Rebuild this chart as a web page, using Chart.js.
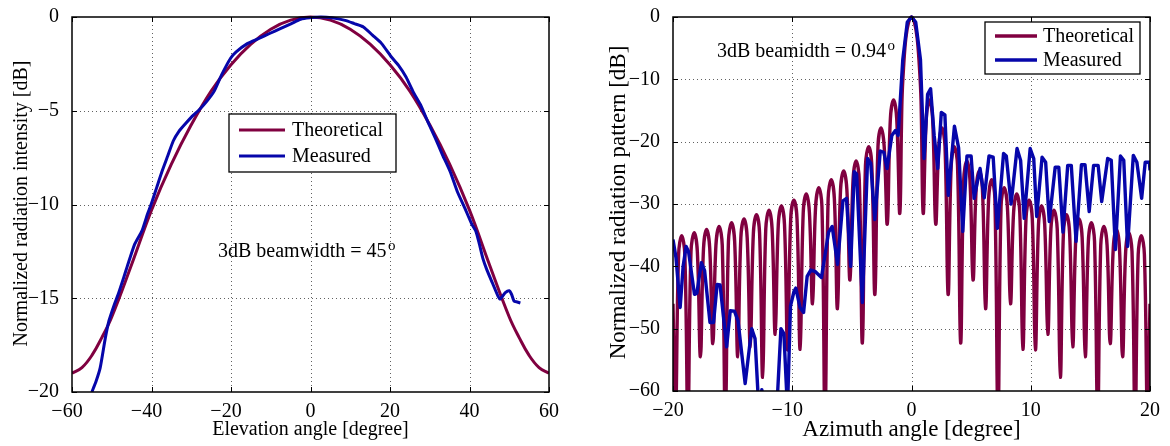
<!DOCTYPE html>
<html><head><meta charset="utf-8">
<script src="https://cdn.jsdelivr.net/npm/chart.js@4.4.0/dist/chart.umd.min.js"></script>
<style>
html,body{margin:0;padding:0;background:#fff;width:1170px;height:446px;overflow:hidden}
.wrap{position:absolute;top:0;width:585px;height:446px}
</style></head><body>
<div class="wrap" style="left:0"><canvas id="c1" width="585" height="446" style="width:585px;height:446px"></canvas></div>
<div class="wrap" style="left:585px"><canvas id="c2" width="585" height="446" style="width:585px;height:446px"></canvas></div>
<script>
// ---------- Left panel: elevation ----------
const elevTicksX = [-60,-40,-20,0,20,40,60];
const elevTicksY = [-20,-15,-10,-5,0];
const elevTheoX = [-60,-57.5,-55,-52.5,-50,-45,-40,-35,-30,-25,-20,-15,-10,-5,0,5,10,15,20,25,30,35,40,45,50,52.5,55,57.5,60];
const elevTheoY = [-19.0,-18.7,-18.05,-17.1,-16.0,-13.2,-10.3,-7.85,-5.75,-3.95,-2.55,-1.45,-0.65,-0.17,0,-0.17,-0.65,-1.45,-2.55,-3.95,-5.75,-7.85,-10.3,-13.2,-16.0,-17.1,-18.05,-18.7,-19.0];
const elevMeasX = [-55.0,-53.9,-52.9,-51.6,-50.7,-49.3,-48.4,-47.0,-46.1,-44.2,-42.4,-41.0,-40.1,-38.7,-37.3,-35.9,-34.5,-33.1,-31.7,-29.8,-28.0,-26.1,-24.3,-22.4,-20.1,-18.7,-15.9,-13.1,-10.3,-7.6,-4.8,-2.5,-0.2,2.6,5.4,8.7,11.0,13.3,15.6,17.9,20.3,22.1,24.0,25.8,27.7,29.5,31.4,33.2,35.1,36.9,38.8,40.6,41.6,42.5,43.4,44.4,45.8,47.2,47.7,48.3,49.0,50.0,50.6,51.2,52.0,52.8];
const elevMeasY = [-20.0,-19.4,-18.7,-17.1,-16.2,-15.3,-14.8,-13.9,-13.3,-12.1,-11.4,-10.5,-10.0,-9.1,-8.2,-7.4,-6.6,-6.1,-5.75,-5.3,-4.95,-4.5,-3.98,-3.1,-2.2,-1.86,-1.42,-1.15,-0.88,-0.62,-0.35,-0.12,-0.04,0,-0.04,-0.18,-0.35,-0.53,-0.97,-1.42,-2.12,-2.57,-3.19,-3.98,-4.69,-5.58,-6.46,-7.35,-8.23,-9.29,-10.18,-11.06,-11.42,-12.12,-12.9,-13.5,-14.2,-14.9,-15.05,-14.9,-14.7,-14.6,-14.8,-15.15,-15.2,-15.25];

// ---------- Right panel: azimuth ----------
const azTicksX = [-20,-10,0,10,20];
const azTicksY = [-60,-50,-40,-30,-20,-10,0];
const azTheoX = [-20.00,-19.79,
 -19.53,-19.27,-19.01,-18.75, -18.49,-18.22,-17.96,-17.70, -17.44,-17.18,-16.92,-16.66, -16.40,-16.13,-15.87,-15.61,
 -15.35,-15.09,-14.83,-14.57, -14.31,-14.04,-13.78,-13.52, -13.26,-13.00,-12.74,-12.48, -12.22,-11.95,-11.69,-11.43,
 -11.17,-10.91,-10.65,-10.39, -10.13,-9.86,-9.60,-9.34, -9.08,-8.82,-8.56,-8.30, -8.04,-7.77,-7.51,-7.25,
 -6.99,-6.73,-6.47,-6.21, -5.95,-5.68,-5.42,-5.16, -4.90,-4.64,-4.38,-4.12, -3.86,-3.59,-3.33,-3.07,
 -2.81,-2.55,-2.29,-2.03, -1.77,-1.50,-1.24,-0.98,
 -0.80,-0.65,-0.47,-0.25,0, 0.25,0.47,0.65,0.80,0.98,
 1.24,1.50,1.77,2.03, 2.29,2.55,2.81,3.07, 3.33,3.59,3.86,4.12, 4.38,4.64,4.90,5.16, 5.42,5.68,5.95,6.21,
 6.47,6.73,6.99,7.25, 7.51,7.77,8.04,8.30, 8.56,8.82,9.08,9.34, 9.60,9.86,10.13,10.39, 10.65,10.91,11.17,11.43,
 11.69,11.95,12.22,12.48, 12.74,13.00,13.26,13.52, 13.78,14.04,14.31,14.57, 14.83,15.09,15.35,15.61,
 15.87,16.13,16.40,16.66, 16.92,17.18,17.44,17.70, 17.96,18.22,18.49,18.75, 19.01,19.27,19.53,19.79,
 20.00];
const azTheoY = [-46,-65,
 -38.1,-35.1,-38.1,-65, -37.6,-34.6,-37.6,-54.5, -37.1,-34.1,-37.1,-52.4, -36.6,-33.6,-36.6,-65,
 -36.0,-33.0,-36.0,-54.5, -35.4,-32.4,-35.4,-52.9, -34.7,-31.7,-34.7,-57.8, -34.0,-31.0,-34.0,-50.9,
 -33.3,-30.3,-33.3,-53.4, -32.4,-29.4,-32.4,-53.3, -31.4,-28.4,-31.4,-46.0, -30.4,-27.4,-30.4,-65,
 -29.1,-26.1,-29.1,-46.8, -27.7,-24.7,-27.7,-42.2, -26.1,-23.1,-26.1,-52.3, -23.8,-20.8,-23.8,-44.5,
 -20.8,-17.8,-20.8,-33.2, -16.3,-13.3,-16.3,-31.5,
 -13.4,-7.6,-3.3,-0.9,0, -0.9,-3.3,-7.6,-13.4,-31.5,
 -16.3,-13.3,-16.3,-33.2, -20.8,-17.8,-20.8,-44.5, -23.8,-20.8,-23.8,-52.3, -26.1,-23.1,-26.1,-42.2, -27.7,-24.7,-27.7,-46.8,
 -29.1,-26.1,-29.1,-65, -30.4,-27.4,-30.4,-46.0, -31.4,-28.4,-31.4,-53.3, -32.4,-29.4,-32.4,-53.4, -33.3,-30.3,-33.3,-50.9,
 -34.0,-31.0,-34.0,-57.8, -34.7,-31.7,-34.7,-52.9, -35.4,-32.4,-35.4,-54.5, -36.0,-33.0,-36.0,-65,
 -36.6,-33.6,-36.6,-52.4, -37.1,-34.1,-37.1,-54.5, -37.6,-34.6,-37.6,-65, -38.1,-35.1,-38.1,-65,
 -46];
const azMeasX = [-20.0,-19.75,-19.4,-19.15,-18.9,-18.7,-18.2,-18.0,-17.62,-17.35,-16.9,-16.6,-16.3,-16.05,-15.5,-15.2,-14.85,-14.55,-13.95,-13.4,-13.12,-12.8,-12.55,-12.3,-11.3,-10.95,-10.7,-10.4,-10.15,-9.85,-9.7,-9.35,-9.05,-8.75,-8.45,-8.1,-7.55,-6.95,-6.65,-6.2,-5.75,-5.45,-5.1,-4.8,-4.6,-4.12,-3.68,-3.42,-3.08,-2.62,-2.32,-2.05,-1.65,-1.35,-1.12,-0.73,-0.35,0,0.35,0.75,1.05,1.35,1.6,1.9,2.2,2.5,2.8,3.08,3.6,3.95,4.3,4.65,5.0,5.25,5.75,6.1,6.5,6.85,7.2,7.72,7.95,8.35,8.85,9.15,9.45,9.95,10.25,10.5,10.95,11.25,11.55,12.05,12.35,12.7,13.1,13.4,13.8,14.25,14.55,14.9,15.27,15.65,15.95,16.45,16.75,17.1,17.52,17.8,18.12,18.6,18.9,19.3,19.6,19.95,20.0];
const azMeasY = [-35.7,-38.6,-46.6,-40.0,-36.8,-37.6,-44.5,-44.3,-39.4,-40.7,-49.0,-49.0,-42.9,-43.0,-52.9,-47.1,-47.2,-48.7,-58.8,-50.0,-51.6,-63.0,-59.8,-63.0,-63.0,-50.0,-50.8,-63.0,-46.4,-44.0,-43.5,-46.6,-47.4,-41.6,-40.6,-40.8,-41.8,-34.5,-33.6,-39.7,-29.5,-29.1,-40.0,-24.8,-25.2,-45.8,-22.7,-23.5,-32.5,-21.5,-21.7,-24.3,-19.0,-18.2,-19.0,-6.8,-0.8,0,-0.8,-6.8,-22.7,-12.4,-11.5,-19.0,-24.3,-15.3,-15.7,-28.6,-17.5,-21.0,-34.4,-22.3,-22.3,-29.1,-24.3,-29.0,-22.3,-22.5,-33.9,-21.9,-22.3,-30.0,-21.1,-23.0,-32.3,-21.1,-22.7,-32.0,-22.5,-23.3,-32.8,-24.1,-24.1,-34.5,-23.8,-23.8,-36.0,-23.7,-23.7,-31.2,-23.8,-23.8,-29.6,-22.7,-23.0,-37.3,-22.3,-23.0,-36.8,-22.2,-23.3,-29.1,-23.3,-23.3,-24.6];

const RED = 'rgb(128,0,64)';
const BLUE = 'rgb(6,6,170)';
const FONT = "'Liberation Serif','Times New Roman',serif";
const pts = (xs, ys) => xs.map((x, i) => ({x, y: ys[i]}));
const fmtX = v => v < 0 ? '\u2212' + Math.abs(v) + '\u00A0\u00A0' : String(v);
const fmtY = v => v < 0 ? '\u2212' + Math.abs(v) : String(v);

function deco(o) {
  return {
    id: 'deco',
    beforeDatasetsDraw(chart) {
      const {ctx, chartArea: a, scales: {x, y}} = chart;
      ctx.save();
      ctx.strokeStyle = 'rgba(30,30,30,0.7)'; ctx.lineWidth = 1; ctx.setLineDash([1, 3]);
      ctx.beginPath();
      o.xt.forEach(v => { const p = Math.round(x.getPixelForValue(v)) + 0.5; if (p > a.left + 2 && p < a.right - 2) { ctx.moveTo(p, a.top); ctx.lineTo(p, a.bottom); } });
      o.yt.forEach(v => { const p = Math.round(y.getPixelForValue(v)) + 0.5; if (p > a.top + 2 && p < a.bottom - 2) { ctx.moveTo(a.left, p); ctx.lineTo(a.right, p); } });
      ctx.stroke();
      ctx.restore();
    },
    afterDatasetsDraw(chart) {
      const {ctx, chartArea: a, scales: {x, y}} = chart;
      ctx.save();
      ctx.strokeStyle = '#000'; ctx.lineWidth = 1;
      ctx.beginPath();
      o.xt.forEach(v => { const p = Math.round(x.getPixelForValue(v)) + 0.5; ctx.moveTo(p, a.bottom); ctx.lineTo(p, a.bottom - 5); ctx.moveTo(p, a.top); ctx.lineTo(p, a.top + 5); });
      o.yt.forEach(v => { const p = Math.round(y.getPixelForValue(v)) + 0.5; ctx.moveTo(a.left, p); ctx.lineTo(a.left + 5, p); ctx.moveTo(a.right, p); ctx.lineTo(a.right - 5, p); });
      ctx.stroke();
      ctx.lineWidth = 1.5;
      ctx.strokeRect(a.left, a.top, a.right - a.left, a.bottom - a.top);
      ctx.restore();
    },
    afterDraw(chart) {
      const ctx = chart.ctx;
      ctx.save();
      ctx.fillStyle = '#000';
      ctx.font = o.titleSize + 'px ' + FONT; ctx.textAlign = 'center'; ctx.textBaseline = 'alphabetic';
      ctx.fillText(o.xTitle, o.xTitlePos[0], o.xTitlePos[1]);
      ctx.save(); ctx.translate(o.yTitlePos[0], o.yTitlePos[1]); ctx.rotate(-Math.PI / 2);
      ctx.fillText(o.yTitle, 0, 0); ctx.restore();
      ctx.font = '20px ' + FONT; ctx.textAlign = 'left';
      ctx.fillText(o.note, o.notePos[0], o.notePos[1]);
      const w = ctx.measureText(o.note).width;
      ctx.font = '15px ' + FONT;
      ctx.fillText('o', o.notePos[0] + w + 1.5, o.notePos[1] - 7);
      const L = o.legend;
      ctx.fillStyle = '#fff';
      ctx.fillRect(L.box[0], L.box[1], L.box[2] - L.box[0], L.box[3] - L.box[1]);
      ctx.strokeStyle = '#000'; ctx.lineWidth = 1.3;
      ctx.strokeRect(L.box[0], L.box[1], L.box[2] - L.box[0], L.box[3] - L.box[1]);
      const items = [['Theoretical', RED, L.y1], ['Measured', BLUE, L.y2]];
      ctx.font = '20px ' + FONT; ctx.textBaseline = 'middle'; ctx.fillStyle = '#000';
      items.forEach(([t, c, yy]) => {
        ctx.strokeStyle = c; ctx.lineWidth = o.lw;
        ctx.beginPath(); ctx.moveTo(L.lx[0], yy); ctx.lineTo(L.lx[1], yy); ctx.stroke();
        ctx.fillText(t, L.tx, yy + 1);
      });
      ctx.restore();
    }
  };
}

function makeChart(id, o) {
  const tickFont = {family: FONT, size: 20};
  return new Chart(document.getElementById(id), {
    type: 'line',
    data: {datasets: [
      {label: 'Measured', data: pts(o.mx, o.my), borderColor: BLUE, borderWidth: o.lw, pointRadius: 0, tension: o.mt, order: 0, borderJoinStyle: 'round', clip: {left: 0, top: 3, right: 0, bottom: 0}},
      {label: 'Theoretical', data: pts(o.tx, o.ty), borderColor: RED, borderWidth: o.lw, pointRadius: 0, tension: o.tt, order: 1, borderJoinStyle: 'round', clip: {left: 0, top: 3, right: 0, bottom: 0}}
    ]},
    options: {
      responsive: false, animation: false, devicePixelRatio: 1,
      layout: {padding: o.pad},
      plugins: {legend: {display: false}, tooltip: {enabled: false}},
      scales: {
        x: {type: 'linear', min: o.xr[0], max: o.xr[1],
            grid: {display: false}, border: {display: false},
            ticks: {font: tickFont, color: '#000', padding: 0, maxRotation: 0, autoSkip: false, callback: fmtX},
            afterBuildTicks: s => { s.ticks = o.xt.map(v => ({value: v})); },
            afterFit: s => { s.height = o.xh; }},
        y: {type: 'linear', min: o.yr[0], max: o.yr[1],
            grid: {display: false}, border: {display: false},
            ticks: {font: tickFont, color: '#000', padding: 5, autoSkip: false, callback: fmtY},
            afterBuildTicks: s => { s.ticks = o.yt.map(v => ({value: v})); },
            afterFit: s => { s.width = o.yw; }}
      }
    },
    plugins: [deco(o)]
  });
}

makeChart('c1', {
  xt: elevTicksX, yt: elevTicksY, xr: [-60, 60], yr: [-20, 0],
  tx: elevTheoX, ty: elevTheoY, mx: elevMeasX, my: elevMeasY, tt: 0.4, mt: 0.2, lw: 3,
  pad: {left: 0, top: 15, right: 36, bottom: 0}, yw: 72, xh: 54,
  titleSize: 20,
  xTitle: 'Elevation angle [degree]', xTitlePos: [310.5, 435],
  yTitle: 'Normalized radiation intensity [dB]', yTitlePos: [27, 203.5],
  note: '3dB beamwidth = 45', notePos: [218, 257],
  legend: {box: [229, 114, 396, 172], y1: 130, y2: 156, lx: [239, 285], tx: 292}
});

makeChart('c2', {
  xt: azTicksX, yt: azTicksY, xr: [-20, 20], yr: [-60, 0],
  tx: azTheoX, ty: azTheoY, mx: azMeasX, my: azMeasY, tt: 0.4, mt: 0, lw: 3.4,
  pad: {left: 0, top: 14, right: 20, bottom: 0}, yw: 88, xh: 55,
  titleSize: 23,
  xTitle: 'Azimuth angle [degree]', xTitlePos: [326.5, 436],
  yTitle: 'Normalized radiation pattern [dB]', yTitlePos: [39.5, 202.5],
  note: '3dB beamidth = 0.94', notePos: [132, 57],
  legend: {box: [400, 22, 555, 74], y1: 36, y2: 60, lx: [410, 452], tx: 458}
});
</script>
</body></html>
